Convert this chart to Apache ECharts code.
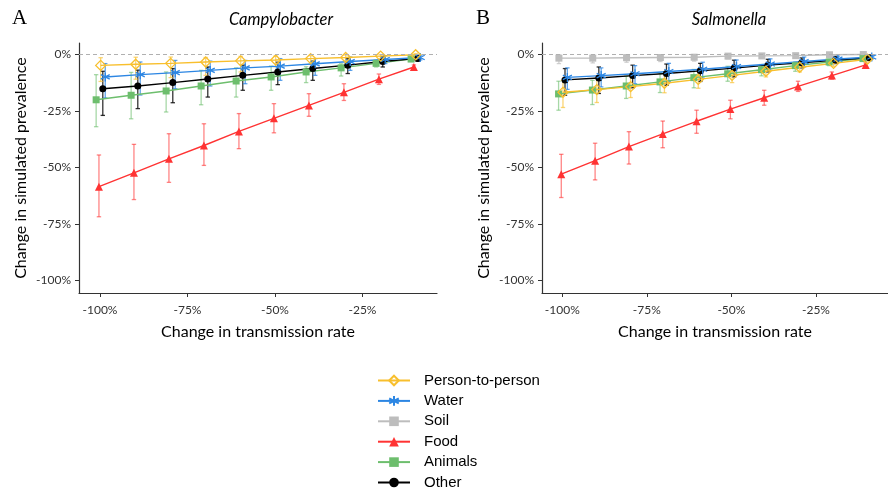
<!DOCTYPE html>
<html>
<head>
<meta charset="utf-8">
<script src="https://cdn.jsdelivr.net/npm/echarts@6/dist/echarts.min.js"></script>
<style>html,body{margin:0;padding:0;background:#fff;}#chart{width:888px;height:489px;}</style>
</head>
<body>
<div id="chart"></div>
<script>
// ---------- DATA ----------
const xValues = [-100, -90, -80, -70, -60, -50, -40, -30, -20, -10];
const seriesNames = ['Person-to-person', 'Water', 'Soil', 'Food', 'Animals', 'Other'];
const xTicks = [-100, -75, -50, -25];
const yTicks = [-100, -75, -50, -25, 0];
const panelTitles = ['Campylobacter', 'Salmonella'];
const panelLetters = ['A', 'B'];

// Panel A: Campylobacter
const campyP2P      = [-4.9, -4.4, -4.0, -3.4, -2.9, -2.5, -1.9, -1.4, -0.8, -0.2];
const campyP2PLow   = [-12.0, -11.0, -10.3, -9.3, -7.8, -5.5, -4.3, -3.0, -1.8, -0.7];
const campyP2PHigh  = [-1.5, -1.3, -1.2, -1.4, -0.9, -0.8, -0.6, -0.3, -0.1, 0.3];
const campyWater     = [-10.0, -9.0, -8.1, -7.1, -6.0, -5.2, -4.2, -3.2, -2.3, -1.4];
const campyWaterLow  = [-19.3, -18.0, -15.2, -14.0, -13.0, -11.5, -9.3, -7.1, -4.1, -2.5];
const campyWaterHigh = [-4.1, -3.4, -2.7, -3.0, -2.7, -1.9, -1.9, -1.2, -0.6, -0.4];
const campyFood     = [-58.5, -52.4, -46.2, -40.3, -34.1, -28.3, -22.6, -16.8, -11.0, -5.6];
const campyFoodLow  = [-71.8, -64.2, -56.6, -49.1, -41.7, -34.7, -27.4, -20.4, -13.3, -6.6];
const campyFoodHigh = [-44.5, -39.8, -35.1, -30.7, -26.2, -21.8, -17.4, -13.0, -8.7, -4.7];
const campyAnimals     = [-20.1, -18.1, -16.2, -14.0, -11.8, -10.0, -7.8, -6.0, -4.0, -2.1];
const campyAnimalsLow  = [-32.0, -28.5, -25.5, -22.3, -18.9, -15.9, -12.5, -9.6, -5.6, -3.0];
const campyAnimalsHigh = [-9.0, -8.0, -7.8, -7.1, -6.0, -5.2, -5.5, -4.2, -2.7, -1.3];
const campyOther     = [-15.2, -14.0, -12.5, -10.9, -9.3, -7.8, -6.3, -4.8, -3.2, -1.8];
const campyOtherLow  = [-27.0, -24.0, -21.4, -18.9, -15.9, -13.4, -11.5, -8.5, -5.6, -3.0];
const campyOtherHigh = [-7.5, -7.0, -6.3, -5.6, -4.8, -3.5, -3.0, -1.9, -1.0, -0.6];

// Panel B: Salmonella
const salmP2P      = [-16.8, -15.6, -14.3, -12.8, -11.1, -9.3, -7.5, -5.7, -4.0, -2.2];
const salmP2PLow   = [-23.5, -21.3, -19.1, -17.0, -15.0, -12.5, -10.0, -7.8, -5.3, -3.0];
const salmP2PHigh  = [-11.5, -10.5, -9.5, -8.5, -7.5, -6.0, -5.0, -3.7, -2.7, -1.4];
const salmWater     = [-10.2, -9.4, -8.6, -7.6, -6.6, -5.4, -4.3, -3.2, -2.1, -1.2];
const salmWaterLow  = [-15.5, -14.4, -13.0, -12.0, -10.5, -9.0, -7.0, -5.5, -3.5, -2.0];
const salmWaterHigh = [-6.0, -6.0, -5.0, -4.0, -3.5, -2.5, -2.0, -1.2, -0.8, -0.5];
const salmSoil     = [-1.7, -1.7, -1.5, -1.4, -1.3, -0.8, -0.7, -0.6, -0.2, -0.1];
const salmSoilLow  = [-4.1, -3.8, -3.5, -3.2, -3.0, -2.0, -1.8, -1.5, -0.8, -0.5];
const salmSoilHigh = [-0.3, -0.3, -0.2, -0.2, -0.1, 0.2, 0.3, 0.3, 0.4, 0.3];
const salmFood     = [-53.0, -47.0, -40.8, -35.2, -29.6, -24.2, -19.2, -14.2, -9.4, -4.7];
const salmFoodLow  = [-63.3, -55.5, -48.5, -41.3, -34.9, -28.5, -22.5, -16.4, -11.0, -5.6];
const salmFoodHigh = [-44.2, -39.3, -34.2, -29.5, -24.7, -20.3, -15.9, -11.9, -7.8, -3.8];
const salmAnimals     = [-17.5, -15.8, -14.0, -12.2, -10.3, -8.6, -6.8, -5.0, -3.4, -1.9];
const salmAnimalsLow  = [-24.7, -22.2, -19.5, -16.9, -14.8, -11.9, -9.5, -7.5, -5.0, -2.8];
const salmAnimalsHigh = [-11.9, -11.5, -9.7, -8.2, -6.7, -5.3, -4.5, -3.4, -2.2, -1.0];
const salmOther     = [-11.3, -10.5, -9.4, -8.5, -7.3, -6.1, -4.8, -3.7, -2.5, -1.5];
const salmOtherLow  = [-18.1, -17.3, -14.8, -13.7, -12.0, -10.0, -7.8, -6.0, -4.1, -2.5];
const salmOtherHigh = [-6.3, -5.6, -4.8, -4.3, -4.0, -2.6, -2.2, -1.6, -0.9, -0.6];

// ---------- STYLE ----------
const ASTERISK = 'path://M5,0L5,10M0.67,2.5L9.33,7.5M0.67,7.5L9.33,2.5';
const styles = {
  'Person-to-person': {color: '#F8BF2D', symbol: 'diamond', size: 10, hollow: true, dodge: 0.2, errOp: 0.65},
  'Water':   {color: '#2C86E3', symbol: ASTERISK, size: 9, stroke: true, dodge: 1.5, errOp: 0.75},
  'Soil':    {color: '#BDBDBD', symbol: 'rect', size: 7, dodge: -1.0, errOp: 0.7},
  'Food':    {color: '#FF3333', symbol: 'triangle', size: 8, dodge: -0.3, errOp: 0.6},
  'Animals': {color: '#6DBE6D', symbol: 'rect', size: 7, dodge: -1.1, errOp: 0.6},
  'Other':   {color: '#000000', symbol: 'circle', size: 7, dodge: 0.8, errOp: 0.8}
};

const panels = [
  {
    'Person-to-person': [campyP2P, campyP2PLow, campyP2PHigh],
    'Water': [campyWater, campyWaterLow, campyWaterHigh],
    'Food': [campyFood, campyFoodLow, campyFoodHigh],
    'Animals': [campyAnimals, campyAnimalsLow, campyAnimalsHigh],
    'Other': [campyOther, campyOtherLow, campyOtherHigh]
  },
  {
    'Person-to-person': [salmP2P, salmP2PLow, salmP2PHigh],
    'Water': [salmWater, salmWaterLow, salmWaterHigh],
    'Soil': [salmSoil, salmSoilLow, salmSoilHigh],
    'Food': [salmFood, salmFoodLow, salmFoodHigh],
    'Animals': [salmAnimals, salmAnimalsLow, salmAnimalsHigh],
    'Other': [salmOther, salmOtherLow, salmOtherHigh]
  }
];

const axisFont = 'Lato';
const series = [];
panels.forEach((panel, p) => {
  let first = true;
  ['Soil', 'Animals', 'Food', 'Other', 'Water', 'Person-to-person'].forEach(name => {
    if (!panel[name]) return;
    const st = styles[name];
    const [mid, low, high] = panel[name];
    const errData = xValues.map((x, i) => [x + st.dodge, low[i], high[i]]);
    series.push({
      name: name + ' error', type: 'custom', xAxisIndex: p, yAxisIndex: p, z: 2,
      silent: true,
      encode: {x: 0, y: [1, 2]},
      data: errData,
      renderItem: (params, api) => {
        const x = api.value(0);
        const top = api.coord([x, api.value(2)]);
        const bot = api.coord([x, api.value(1)]);
        const w = 2.2;
        const s = {stroke: st.color, lineWidth: 1.3, opacity: st.errOp};
        return {type: 'group', children: [
          {type: 'line', shape: {x1: top[0], y1: top[1], x2: bot[0], y2: bot[1]}, style: s},
          {type: 'line', shape: {x1: top[0] - w, y1: top[1], x2: top[0] + w, y2: top[1]}, style: s},
          {type: 'line', shape: {x1: bot[0] - w, y1: bot[1], x2: bot[0] + w, y2: bot[1]}, style: s}
        ]};
      }
    });
    const s = {
      name: name, type: 'line', xAxisIndex: p, yAxisIndex: p, z: 3,
      data: xValues.map((x, i) => [x + st.dodge, mid[i]]),
      symbol: st.symbol, symbolSize: st.size, showSymbol: true,
      lineStyle: {color: st.color, width: 1.4},
      itemStyle: (st.hollow || st.stroke) ? {color: 'rgba(255,255,255,0)', borderColor: st.color, borderWidth: 1.3}
               : {color: st.color, borderWidth: 0},
      emphasis: {disabled: true}
    };
    if (first) {
      s.markLine = {
        silent: true, symbol: 'none', label: {show: false}, animation: false,
        lineStyle: {type: [4, 3], color: '#B0B0B0', width: 1},
        data: [{yAxis: 0}]
      };
      first = false;
    }
    series.push(s);
  });
});

function xAxis(i) {
  return {
    type: 'value', gridIndex: i, min: -106, max: -3.7,
    name: 'Change in transmission rate', nameLocation: 'middle', nameGap: 31,
    nameTextStyle: {fontFamily: axisFont, fontSize: 16, color: '#000'},
    axisLine: {show: true, onZero: false, lineStyle: {color: '#333', width: 1.2}},
    axisTick: {show: true, length: 4, customValues: xTicks, lineStyle: {color: '#333'}},
    axisLabel: {customValues: xTicks, formatter: v => v + '%', fontFamily: axisFont, fontSize: 12, color: '#333', margin: 11},
    splitLine: {show: false}
  };
}
function yAxis(i) {
  return {
    type: 'value', gridIndex: i, min: -105.5, max: 5,
    name: 'Change in simulated prevalence', nameLocation: 'middle', nameRotate: 90, nameGap: 50,
    nameTextStyle: {fontFamily: axisFont, fontSize: 16, color: '#000'},
    axisLine: {show: true, onZero: false, lineStyle: {color: '#333', width: 1.2}},
    axisTick: {show: true, length: 4, customValues: yTicks, lineStyle: {color: '#333'}},
    axisLabel: {customValues: yTicks, formatter: v => v + '%', fontFamily: axisFont, fontSize: 12, color: '#333', margin: 8},
    splitLine: {show: false}
  };
}

const chart = echarts.init(document.getElementById('chart'), null, {renderer: 'canvas'});
chart.setOption({
  animation: false,
  backgroundColor: '#fff',
  grid: [
    {left: 79, top: 43, width: 358, height: 250},
    {left: 542, top: 43, width: 358, height: 250}
  ],
  xAxis: [xAxis(0), xAxis(1)],
  yAxis: [yAxis(0), yAxis(1)],
  legend: {
    data: seriesNames, orient: 'vertical', left: 377, top: 373, height: 150, padding: 0,
    itemWidth: 32, itemHeight: 12, itemGap: 5.4,
    textStyle: {fontFamily: 'Liberation Sans', fontSize: 15, lineHeight: 14, color: '#000', padding: [0, 0, 0, 9]},
    selectedMode: false
  },
  graphic: [
    {type: 'text', x: 12, y: 18, style: {text: panelLetters[0], font: '21px "Liberation Serif"', fill: '#000', verticalAlign: 'middle'}},
    {type: 'text', x: 476, y: 18, style: {text: panelLetters[1], font: '21px "Liberation Serif"', fill: '#000', verticalAlign: 'middle'}},
    {type: 'text', x: 281, y: 20, style: {text: panelTitles[0], font: 'italic 16.5px Lato', fill: '#000', align: 'center', verticalAlign: 'middle'}},
    {type: 'text', x: 729, y: 20, style: {text: panelTitles[1], font: 'italic 16.5px Lato', fill: '#000', align: 'center', verticalAlign: 'middle'}}
  ],
  series: series
});
</script>
</body>
</html>
